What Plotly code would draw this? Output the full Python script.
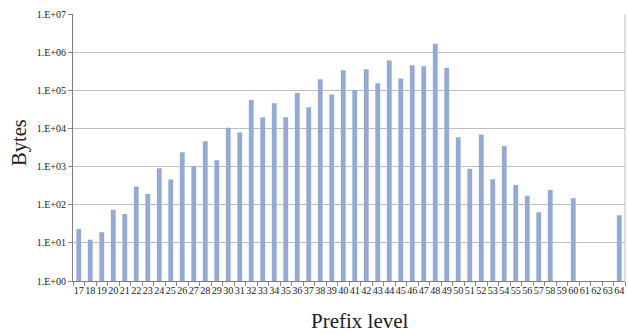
import plotly.graph_objects as go

# Prefix levels 17..64 and the number of bytes at each level (None = no data)
prefix_levels = [str(p) for p in range(17, 65)]
bytes_per_level = [
    23, 12, 19, 74, 57, 302, 191, 900, 455, 2380,          # 17-26
    1020, 4640, 1470, 10400, 7800, 55600, 19500, 45600,    # 27-34
    19500, 85000, 35700, 195000, 78000, 333000, 100000,    # 35-41
    355000, 152000, 600000, 205000, 452000, 425000,        # 42-47
    1660000, 390000, 5860, 875, 6900, 465, 3470, 330,      # 48-55
    173, 63, 244, None, 148, None, None, None, 53,         # 56-64
]

y_tick_vals = [10 ** k for k in range(0, 8)]
y_tick_text = ["1.E+%02d" % k for k in range(0, 8)]

serif = "'Liberation Serif', 'Times New Roman', serif"
text_color = "#222222"

fig = go.Figure(
    go.Bar(
        x=prefix_levels,
        y=bytes_per_level,
        marker=dict(color="#94AAD3", line=dict(width=0)),
        width=0.42,
    )
)

fig.update_layout(
    width=629,
    height=334,
    margin=dict(l=73, r=4, t=14, b=53),
    plot_bgcolor="white",
    paper_bgcolor="white",
    showlegend=False,
    font=dict(family=serif, color=text_color),
)

fig.update_xaxes(
    type="category",
    tickmode="array",
    tickvals=prefix_levels,
    ticktext=prefix_levels,
    tickson="boundaries",
    ticks="outside",
    ticklen=4,
    tickcolor="#888888",
    showline=True,
    linecolor="#7f7f7f",
    linewidth=1,
    showgrid=False,
    tickangle=0,
    tickfont=dict(family=serif, size=10.2, color=text_color),
)

fig.update_yaxes(
    type="log",
    range=[0, 7],
    tickvals=y_tick_vals,
    ticktext=y_tick_text,
    ticks="outside",
    ticklen=4,
    tickcolor="#888888",
    showline=True,
    linecolor="#7f7f7f",
    linewidth=1,
    showgrid=True,
    gridcolor="#BEBEBE",
    gridwidth=1,
    zeroline=False,
    tickfont=dict(family=serif, size=10, color=text_color),
)

# axis titles
fig.add_annotation(
    text="Prefix level", xref="paper", yref="paper",
    x=0.52, y=-0.150, xanchor="center", yanchor="middle",
    showarrow=False, font=dict(family=serif, size=21, color=text_color),
)
fig.add_annotation(
    text="Bytes", xref="paper", yref="paper", textangle=-90,
    x=-0.097, y=0.519, xanchor="center", yanchor="middle",
    showarrow=False, font=dict(family=serif, size=20.5, color=text_color),
)

# right-hand frame edge of the plot area
fig.add_shape(
    type="line", xref="paper", yref="paper",
    x0=1, x1=1, y0=0, y1=1,
    line=dict(color="#BEBEBE", width=1),
)

fig.write_html("out.html")
